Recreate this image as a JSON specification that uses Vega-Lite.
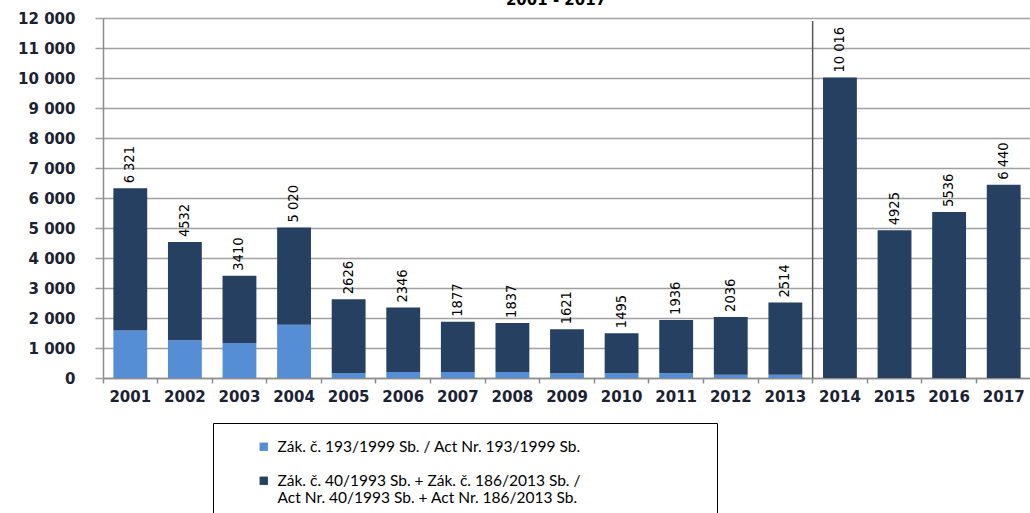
{
  "$schema": "https://vega.github.io/schema/vega-lite/v6.json",
  "width": 928,
  "height": 360,
  "autosize": {"type": "none"},
  "padding": {"left": 103, "top": 18, "right": 0, "bottom": 135},
  "background": "white",
  "title": {"text": "2001 - 2017", "font": "DejaVu Sans", "fontSize": 15, "fontWeight": "bold", "color": "#000000", "frame": "group", "offset": 3, "dx": -11, "anchor": "middle"},
  "datasets": {
    "bars": [
      {"year": "2001", "series": "Zák. č. 193/1999 Sb. / Act Nr. 193/1999 Sb.", "value": 1580},
      {"year": "2001", "series": "Zák. č. 40/1993 Sb. + Zák. č. 186/2013 Sb. / Act Nr. 40/1993 Sb. + Act Nr. 186/2013 Sb.", "value": 4741},
      {"year": "2002", "series": "Zák. č. 193/1999 Sb. / Act Nr. 193/1999 Sb.", "value": 1255},
      {"year": "2002", "series": "Zák. č. 40/1993 Sb. + Zák. č. 186/2013 Sb. / Act Nr. 40/1993 Sb. + Act Nr. 186/2013 Sb.", "value": 3277},
      {"year": "2003", "series": "Zák. č. 193/1999 Sb. / Act Nr. 193/1999 Sb.", "value": 1165},
      {"year": "2003", "series": "Zák. č. 40/1993 Sb. + Zák. č. 186/2013 Sb. / Act Nr. 40/1993 Sb. + Act Nr. 186/2013 Sb.", "value": 2245},
      {"year": "2004", "series": "Zák. č. 193/1999 Sb. / Act Nr. 193/1999 Sb.", "value": 1775},
      {"year": "2004", "series": "Zák. č. 40/1993 Sb. + Zák. č. 186/2013 Sb. / Act Nr. 40/1993 Sb. + Act Nr. 186/2013 Sb.", "value": 3245},
      {"year": "2005", "series": "Zák. č. 193/1999 Sb. / Act Nr. 193/1999 Sb.", "value": 165},
      {"year": "2005", "series": "Zák. č. 40/1993 Sb. + Zák. č. 186/2013 Sb. / Act Nr. 40/1993 Sb. + Act Nr. 186/2013 Sb.", "value": 2461},
      {"year": "2006", "series": "Zák. č. 193/1999 Sb. / Act Nr. 193/1999 Sb.", "value": 200},
      {"year": "2006", "series": "Zák. č. 40/1993 Sb. + Zák. č. 186/2013 Sb. / Act Nr. 40/1993 Sb. + Act Nr. 186/2013 Sb.", "value": 2146},
      {"year": "2007", "series": "Zák. č. 193/1999 Sb. / Act Nr. 193/1999 Sb.", "value": 200},
      {"year": "2007", "series": "Zák. č. 40/1993 Sb. + Zák. č. 186/2013 Sb. / Act Nr. 40/1993 Sb. + Act Nr. 186/2013 Sb.", "value": 1677},
      {"year": "2008", "series": "Zák. č. 193/1999 Sb. / Act Nr. 193/1999 Sb.", "value": 200},
      {"year": "2008", "series": "Zák. č. 40/1993 Sb. + Zák. č. 186/2013 Sb. / Act Nr. 40/1993 Sb. + Act Nr. 186/2013 Sb.", "value": 1637},
      {"year": "2009", "series": "Zák. č. 193/1999 Sb. / Act Nr. 193/1999 Sb.", "value": 155},
      {"year": "2009", "series": "Zák. č. 40/1993 Sb. + Zák. č. 186/2013 Sb. / Act Nr. 40/1993 Sb. + Act Nr. 186/2013 Sb.", "value": 1466},
      {"year": "2010", "series": "Zák. č. 193/1999 Sb. / Act Nr. 193/1999 Sb.", "value": 155},
      {"year": "2010", "series": "Zák. č. 40/1993 Sb. + Zák. č. 186/2013 Sb. / Act Nr. 40/1993 Sb. + Act Nr. 186/2013 Sb.", "value": 1340},
      {"year": "2011", "series": "Zák. č. 193/1999 Sb. / Act Nr. 193/1999 Sb.", "value": 155},
      {"year": "2011", "series": "Zák. č. 40/1993 Sb. + Zák. č. 186/2013 Sb. / Act Nr. 40/1993 Sb. + Act Nr. 186/2013 Sb.", "value": 1781},
      {"year": "2012", "series": "Zák. č. 193/1999 Sb. / Act Nr. 193/1999 Sb.", "value": 110},
      {"year": "2012", "series": "Zák. č. 40/1993 Sb. + Zák. č. 186/2013 Sb. / Act Nr. 40/1993 Sb. + Act Nr. 186/2013 Sb.", "value": 1926},
      {"year": "2013", "series": "Zák. č. 193/1999 Sb. / Act Nr. 193/1999 Sb.", "value": 110},
      {"year": "2013", "series": "Zák. č. 40/1993 Sb. + Zák. č. 186/2013 Sb. / Act Nr. 40/1993 Sb. + Act Nr. 186/2013 Sb.", "value": 2404},
      {"year": "2014", "series": "Zák. č. 40/1993 Sb. + Zák. č. 186/2013 Sb. / Act Nr. 40/1993 Sb. + Act Nr. 186/2013 Sb.", "value": 10016},
      {"year": "2015", "series": "Zák. č. 40/1993 Sb. + Zák. č. 186/2013 Sb. / Act Nr. 40/1993 Sb. + Act Nr. 186/2013 Sb.", "value": 4925},
      {"year": "2016", "series": "Zák. č. 40/1993 Sb. + Zák. č. 186/2013 Sb. / Act Nr. 40/1993 Sb. + Act Nr. 186/2013 Sb.", "value": 5536},
      {"year": "2017", "series": "Zák. č. 40/1993 Sb. + Zák. č. 186/2013 Sb. / Act Nr. 40/1993 Sb. + Act Nr. 186/2013 Sb.", "value": 6440}
    ],
    "totals": [
      {"year": "2001", "total": 6321, "label": "6 321"},
      {"year": "2002", "total": 4532, "label": "4532"},
      {"year": "2003", "total": 3410, "label": "3410"},
      {"year": "2004", "total": 5020, "label": "5 020"},
      {"year": "2005", "total": 2626, "label": "2626"},
      {"year": "2006", "total": 2346, "label": "2346"},
      {"year": "2007", "total": 1877, "label": "1877"},
      {"year": "2008", "total": 1837, "label": "1837"},
      {"year": "2009", "total": 1621, "label": "1621"},
      {"year": "2010", "total": 1495, "label": "1495"},
      {"year": "2011", "total": 1936, "label": "1936"},
      {"year": "2012", "total": 2036, "label": "2036"},
      {"year": "2013", "total": 2514, "label": "2514"},
      {"year": "2014", "total": 10016, "label": "10 016"},
      {"year": "2015", "total": 4925, "label": "4925"},
      {"year": "2016", "total": 5536, "label": "5536"},
      {"year": "2017", "total": 6440, "label": "6 440"}
    ],
    "divider": [{"year": "2014", "from": 0, "to": 11900}]
  },
  "config": {
    "view": {"stroke": null},
    "axisY": {
      "title": null, "labelOverlap": false,
      "labelExpr": "replace(format(datum.value, ','), ',', ' ')",
      "labelFont": "DejaVu Sans", "labelFontSize": 15, "labelFontWeight": "bold", "labelColor": "#1b2233",
      "labelPadding": 20, "grid": true, "gridColor": "#a0a0a0", "gridWidth": 1.5,
      "domainColor": "#8c8c8c", "domainWidth": 1.5, "tickColor": "#a0a0a0", "tickSize": 8, "tickWidth": 1.5
    },
    "axisX": {
      "title": null, "labelAngle": 0, "labelFont": "DejaVu Sans", "labelFontSize": 15, "labelFontWeight": "bold",
      "labelColor": "#1b2233", "labelPadding": 6, "domainColor": "#8c8c8c", "domainWidth": 1.5,
      "tickColor": "#8c8c8c", "tickSize": 5, "tickWidth": 1.5, "grid": false
    }
  },
  "layer": [
    {
      "data": {"name": "bars"},
      "mark": {"type": "bar", "width": {"band": 0.62}},
      "encoding": {
        "x": {
          "field": "year", "type": "nominal", "sort": null,
          "scale": {"type": "band", "paddingInner": 0, "paddingOuter": 0},
          "axis": {"bandPosition": 0}
        },
        "y": {
          "field": "value", "type": "quantitative", "stack": "zero",
          "scale": {"domain": [0, 12000], "nice": false},
          "axis": {"values": [0, 1000, 2000, 3000, 4000, 5000, 6000, 7000, 8000, 9000, 10000, 11000, 12000]}
        },
        "color": {
          "field": "series", "type": "nominal",
          "scale": {
            "domain": ["Zák. č. 193/1999 Sb. / Act Nr. 193/1999 Sb.", "Zák. č. 40/1993 Sb. + Zák. č. 186/2013 Sb. / Act Nr. 40/1993 Sb. + Act Nr. 186/2013 Sb."],
            "range": ["#558ed5", "#254061"]
          },
          "legend": {
            "title": null, "orient": "none", "legendX": 110, "legendY": 405, "direction": "vertical",
            "strokeColor": "#000000", "fillColor": "white", "padding": 16,
            "symbolType": "square", "symbolSize": 70, "symbolStrokeWidth": 0, "symbolOffset": 27,
            "labelFont": "Lato", "labelFontSize": 15.5, "labelColor": "#000000", "labelLimit": 800, "labelOffset": 6,
            "rowPadding": 17,
            "labelExpr": "indexof(datum.label, '+') > 0 ? split(replace(datum.label, ' / Act', '  /|Act'), '|') : pad(datum.label, 53, '\u2800')"
          }
        },
        "order": {"field": "series", "sort": "ascending"}
      }
    },
    {
      "data": {"name": "totals"},
      "mark": {"type": "text", "angle": 270, "align": "left", "baseline": "middle", "dx": 5, "font": "Liberation Sans Narrow, DejaVu Sans Condensed", "fontSize": 14.5, "color": "#000000"},
      "encoding": {
        "x": {"field": "year", "type": "nominal", "sort": null},
        "y": {"field": "total", "type": "quantitative", "axis": {"values": [0, 1000, 2000, 3000, 4000, 5000, 6000, 7000, 8000, 9000, 10000, 11000, 12000]}},
        "text": {"field": "label"}
      }
    },
    {
      "data": {"name": "divider"},
      "mark": {"type": "rule", "color": "#595959", "strokeWidth": 1.5},
      "encoding": {
        "x": {"field": "year", "type": "nominal", "sort": null, "bandPosition": 0},
        "y": {"field": "from", "type": "quantitative", "axis": {"values": [0, 1000, 2000, 3000, 4000, 5000, 6000, 7000, 8000, 9000, 10000, 11000, 12000]}},
        "y2": {"field": "to"}
      }
    }
  ]
}
